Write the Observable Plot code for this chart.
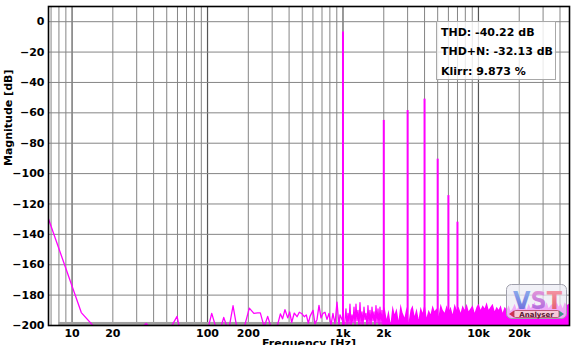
<!DOCTYPE html>
<html>
<head>
<meta charset="utf-8">
<script src="https://cdn.jsdelivr.net/npm/d3@7"></script>
<script src="https://cdn.jsdelivr.net/npm/@observablehq/plot@0.6"></script>
<style>
  html, body { margin: 0; padding: 0; background: #fff; }
  #wrap { position: relative; width: 574px; height: 345px; overflow: hidden; font-family: "DejaVu Sans", sans-serif; }
  #legend { position: absolute; left: 436px; top: 21px; width: 118px; height: 57px;
            border: 1px solid #a8a8a8; background: rgba(255,255,255,0.82);
            font: bold 11px "DejaVu Sans", sans-serif; color: #000; }
  #legend div { position: absolute; left: 4px; white-space: nowrap; line-height: 13px; }
  #logo { position: absolute; left: 506px; top: 284px; }
</style>
</head>
<body>
<div id="wrap"></div>
<script>
// ---- tick labels / grid ----
const xTicks = [10, 20, 50, 100, 200, 500, 1000, 2000, 5000, 10000, 20000];
const xTickLabels = ["10", "20", "50", "100", "200", "500", "1k", "2k", "5k", "10k", "20k"];
const yTicks = [0, -20, -40, -60, -80, -100, -120, -140, -160, -180, -200];
const xGridMinor = [7, 8, 9, 20, 30, 40, 50, 60, 70, 80, 90, 200, 300, 400, 500, 600, 700, 800, 900,
  2000, 3000, 4000, 5000, 6000, 7000, 8000, 9000, 20000, 30000, 40000];
const xGridMajor = [10, 100, 1000, 10000];

// ---- harmonics (Hz, dB) ----
const harmonicFreq = [1000, 2000, 3000, 4000, 5000, 6000, 7000];
const harmonicDb = [-6.8, -65, -58.5, -51, -90.5, -114.5, -132];

// ---- low / mid frequency noise trace (Hz, dB) ----
const noiseFreq = [5.86, 11.7, 14.6, 33, 35.2, 37.5, 53.8, 59.6, 61.8, 101.4, 107.4, 115, 125.7, 131.7, 139.4,
  144.6, 154.3, 164.3, 186.9, 203.5, 220, 234.6, 245.3, 262, 278, 294, 326, 345, 358, 373, 391, 404, 418, 437,
  458, 476, 498, 518, 536, 555, 571, 601, 621, 643, 665, 688, 712, 736, 762, 788, 815, 843, 873, 903, 934, 950,
  983, 1026, 1052, 1070, 1089, 1108, 1126, 1146, 1165, 1186, 1206, 1227, 1247, 1269, 1290, 1313, 1335, 1359,
  1381, 1406, 1429, 1454, 1478, 1505, 1529, 1557, 1582, 1611, 1637, 1666, 1694, 1724, 1752, 1784, 1813, 1845,
  1876, 1909, 1941, 1975, 2010];
const noiseDb = [-115, -191.5, -201, -201, -198.6, -201, -201, -194, -201, -201, -192, -201, -201, -194.7, -201,
  -201, -187, -201, -201, -188.6, -192, -191.7, -191.7, -201, -194, -201, -201, -192.3, -195.6, -189.6, -195, -191, -198, -191.8,
  -194.2, -191.3, -192.3, -194.2, -193, -198.5, -194, -190, -199, -196, -186.8, -195, -192, -191.3, -196, -192, -200, -192, -199, -184.6, -200, -193,
  -196, -200, -189, -200, -192, -199, -186, -201, -193, -198, -188, -200, -186, -197, -190, -201, -185, -199,
  -191, -200, -188, -196, -192, -201, -187, -199, -190, -200, -188, -197, -191, -201, -187, -198, -189, -200,
  -188, -199, -190, -201, -192];

// ---- dense noise floor above 2 kHz (Hz, top dB) ----
const floorFreq = [1975, 2044, 2115, 2188, 2263, 2342, 2423, 2507, 2593, 2683, 2776, 2872, 2971, 3074, 3181, 3291,
  3405, 3522, 3644, 3770, 3901, 4036, 4175, 4320, 4469, 4624, 4784, 4949, 5121, 5298, 5481, 5671, 5867, 6070,
  6280, 6498, 6722, 6955, 7196, 7445, 7702, 7969, 8244, 8530, 8825, 9130, 9446, 9773, 10111, 10461, 10823,
  11198, 11585, 11986, 12401, 12830, 13274, 13734, 14209, 14701, 15210, 15736, 16281, 16844, 17427, 18030,
  18654, 19300, 19968, 20659, 21374, 22114, 22879, 23671, 24490, 25338, 26215, 27122, 28061, 29032, 30037,
  31076, 32152, 33264, 34416, 35607, 36839, 38114, 39433, 40798, 42210, 43671, 45182, 46746, 48364];
const floorDb = [-194, -188, -196, -190, -199, -187, -193, -189, -197, -186, -192, -195, -188, -198, -190, -187,
  -194, -189, -196, -188, -192, -186, -195, -190, -193, -187, -191, -189, -194, -186, -190, -192, -187, -191,
  -188, -193, -186, -190, -188, -192, -187, -190, -186, -191, -189, -187, -192, -188, -186, -190, -187,
  -189, -185, -190, -188, -186, -191, -188, -190, -187, -192, -188, -190, -187, -191, -189,
  -186, -190, -188, -185, -189, -187, -190, -186, -189, -187, -185, -189, -187, -190, -186,
  -188, -185, -189, -187, -186, -189, -185, -188, -186, -189, -185, -187, -186, -188];

// ---- gray floor band ----
const bandFreq = [8, 47000];
const bandDb = [-200, -198];

const legendLines = ["THD: -40.22 dB", "THD+N: -32.13 dB", "Klirr: 9.873 %"];

const magenta = "#f0f";
const noiseLine = noiseFreq.map((f, i) => ({f, db: noiseDb[i]}));
const noiseFloor = floorFreq.map((f, i) => ({f, db: floorDb[i]}));
const labelMap = new Map(xTicks.map((t, i) => [t, xTickLabels[i]]));

const chart = Plot.plot({
  width: 574,
  height: 345,
  marginLeft: 48,
  marginRight: 5,
  marginTop: 6,
  marginBottom: 20,
  style: {fontFamily: "DejaVu Sans, sans-serif", fontSize: "11px", fontWeight: "bold", background: "#fff", color: "#000"},
  x: {type: "log", domain: [6.7, 47000], ticks: xTicks, tickFormat: d => labelMap.get(d), tickSize: 0, tickPadding: 4, label: null},
  y: {domain: [-200, 10], ticks: yTicks, tickSize: 0, tickPadding: 4, label: null},
  marks: [
    Plot.ruleX(xGridMinor, {stroke: "#858585", strokeWidth: 1}),
    Plot.ruleX(xGridMajor, {stroke: "#555", strokeWidth: 1.2}),
    Plot.ruleY(yTicks, {stroke: "#858585", strokeWidth: 1}),
    Plot.rect([0], {x1: bandFreq[0], x2: bandFreq[1], y1: bandDb[0], y2: bandDb[1], fill: "#a0a0a0"}),
    Plot.areaY(noiseFloor, {x: "f", y1: -200, y2: "db", fill: magenta, clip: true, curve: "linear"}),
    Plot.line(noiseLine, {x: "f", y: "db", stroke: magenta, strokeWidth: 1.3, clip: true}),
    Plot.ruleX(harmonicFreq, {x: d => d, y1: -200, y2: (d, i) => harmonicDb[i], stroke: magenta, strokeWidth: 2}),
    Plot.frame({stroke: "#000", strokeWidth: 1.6}),
    Plot.text(["Magnitude [dB]"], {frameAnchor: "left", dx: -40, rotate: -90, text: d => d, fontSize: 11, fontWeight: "bold", fill: "#000"}),
    Plot.text(["Frequency [Hz]"], {frameAnchor: "bottom", dy: 14, lineAnchor: "top", text: d => d, fontSize: 11, fontWeight: "bold", fill: "#000"})
  ]
});

const wrap = document.getElementById("wrap");
wrap.appendChild(chart);

const legend = document.createElement("div");
legend.id = "legend";
legendLines.forEach((t, i) => {
  const d = document.createElement("div");
  d.textContent = t;
  d.style.top = (4 + i * 19.3) + "px";
  legend.appendChild(d);
});
wrap.appendChild(legend);

const logo = document.createElement("div");
logo.id = "logo";
logo.innerHTML = `
<svg width="62" height="36" xmlns="http://www.w3.org/2000/svg">
  <defs>
    <linearGradient id="gV" x1="0" y1="0" x2="0" y2="1"><stop offset="0" stop-color="#8fb8f0"/><stop offset="1" stop-color="#6a60d8"/></linearGradient>
    <linearGradient id="gS" x1="0" y1="0" x2="0" y2="1"><stop offset="0" stop-color="#f0a0d8"/><stop offset="1" stop-color="#a060e0"/></linearGradient>
    <linearGradient id="gT" x1="0" y1="0" x2="0" y2="1"><stop offset="0" stop-color="#f8a0b0"/><stop offset="1" stop-color="#e05060"/></linearGradient>
  </defs>
  <rect x="0.5" y="0.5" width="60" height="34" rx="5" fill="rgba(236,236,244,0.72)" stroke="#a0a0ac"/>
  <text x="7" y="25" font-family="DejaVu Sans" font-weight="bold" font-size="25" textLength="49" lengthAdjust="spacingAndGlyphs"><tspan fill="url(#gV)">V</tspan><tspan fill="url(#gS)">S</tspan><tspan fill="url(#gT)">T</tspan></text>
  <polygon points="3,30 8,26.5 8,33.5" fill="#d03050"/>
  <polygon points="58,30 53,26.5 53,33.5" fill="#3a9a8a"/>
  <rect x="8" y="26.5" width="45" height="7" rx="1.5" fill="#f6c8d8" stroke="#b04060" stroke-width="0.8"/>
  <text x="30.5" y="32.6" text-anchor="middle" font-family="DejaVu Sans" font-weight="bold" font-size="7" fill="#5a1a30">Analyser</text>
</svg>`;
wrap.appendChild(logo);
</script>
</body>
</html>
